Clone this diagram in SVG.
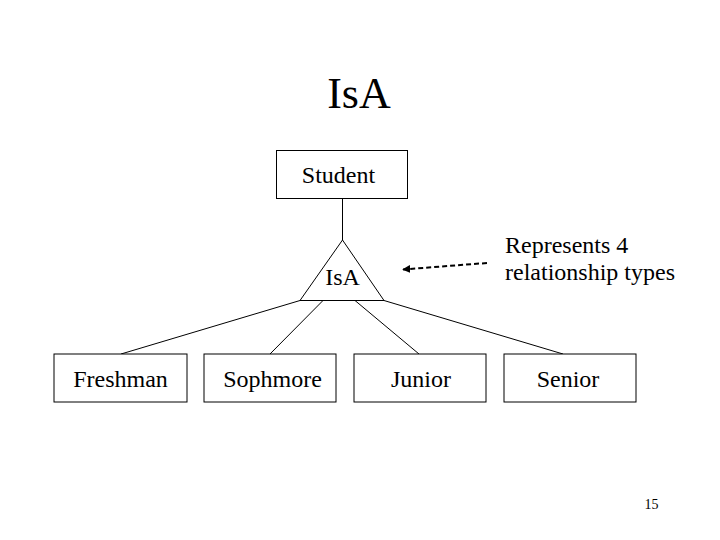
<svg xmlns="http://www.w3.org/2000/svg" width="720" height="540" viewBox="0 0 720 540" font-family="'Liberation Serif', 'Times New Roman', serif">
<defs>
<style>
.lbl{font-size:24px;text-anchor:middle;font-family:'Liberation Serif','Times New Roman',serif}
.box{fill:#fff;stroke:#000;stroke-width:1}
.ln{stroke:#000;stroke-width:1;fill:none}
</style>
<marker id="ah" viewBox="0 0 10 10" refX="9" refY="5" markerWidth="4" markerHeight="4" orient="auto" markerUnits="strokeWidth">
<path d="M0,0 L10,5 L0,10 Z" fill="#000"/>
</marker>
</defs>
<rect width="720" height="540" fill="#fff"/>
<text x="359" y="108" font-family="'Liberation Serif', serif" font-size="44" text-anchor="middle">IsA</text>
<g id="connectors">
<line class="ln" x1="342.5" y1="198" x2="342.5" y2="240"/>
<line class="ln" x1="300" y1="300.5" x2="121" y2="354"/>
<line class="ln" x1="323" y1="300.5" x2="270" y2="354"/>
<line class="ln" x1="355" y1="300.5" x2="419" y2="354"/>
<line class="ln" x1="384" y1="300.5" x2="563" y2="354"/>
<line x1="487" y1="263" x2="403" y2="269.5" stroke="#000" stroke-width="2" stroke-dasharray="5,3" marker-end="url(#ah)"/>
</g>
<g id="student">
<rect class="box" x="276.5" y="150.5" width="131" height="48"/>
<text class="lbl" font-family="'Liberation Serif', serif" x="338.5" y="183">Student</text>
</g>
<g id="isa">
<polygon class="ln" points="342.5,240 300,300.5 384,300.5"/>
<text class="lbl" font-family="'Liberation Serif', serif" x="342.5" y="285">IsA</text>
</g>
<g id="note" font-family="'Liberation Serif', serif" font-size="24">
<text x="505" y="253">Represents 4</text>
<text x="505" y="280">relationship types</text>
</g>
<g id="freshman">
<rect class="box" x="54" y="354" width="133" height="48"/>
<text class="lbl" font-family="'Liberation Serif', serif" x="120.5" y="387">Freshman</text>
</g>
<g id="sophmore">
<rect class="box" x="204" y="354" width="132" height="48"/>
<text class="lbl" font-family="'Liberation Serif', serif" x="272.5" y="387">Sophmore</text>
</g>
<g id="junior">
<rect class="box" x="354" y="354" width="132" height="48"/>
<text class="lbl" font-family="'Liberation Serif', serif" x="421" y="387">Junior</text>
</g>
<g id="senior">
<rect class="box" x="504" y="354" width="132" height="48"/>
<text class="lbl" font-family="'Liberation Serif', serif" x="568" y="387">Senior</text>
</g>
<text x="651.5" y="509" font-family="'Liberation Serif', serif" font-size="14" text-anchor="middle">15</text>
</svg>
